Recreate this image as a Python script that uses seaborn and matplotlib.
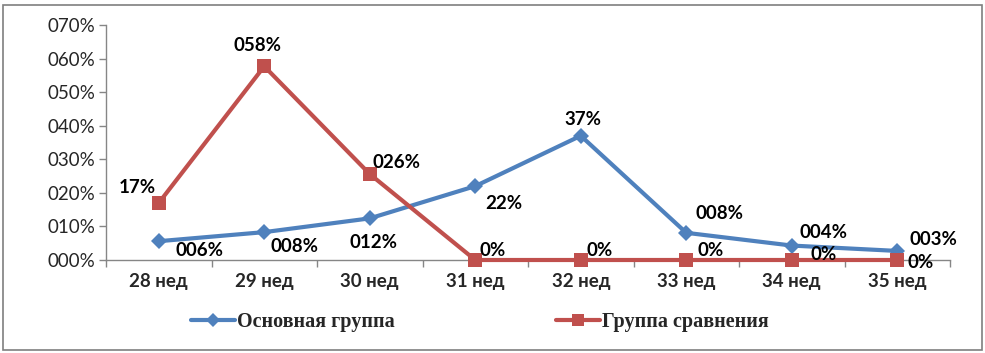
import matplotlib
matplotlib.use("Agg")
import matplotlib.pyplot as plt
import seaborn as sns
import pandas as pd
from matplotlib.ticker import FuncFormatter, FixedLocator
from matplotlib.patches import Rectangle
from matplotlib.lines import Line2D

categories = ["28 нед", "29 нед", "30 нед", "31 нед", "32 нед", "33 нед", "34 нед", "35 нед"]
main_group = [0.056, 0.083, 0.124, 0.22, 0.37, 0.081, 0.043, 0.027]
compare_group = [0.17, 0.577, 0.256, 0.0, 0.0, 0.0, 0.0, 0.0]
main_labels = ["006%", "008%", "012%", "22%", "37%", "008%", "004%", "003%"]
compare_labels = ["17%", "058%", "026%", "0%", "0%", "0%", "0%", "0%"]
series_names = ["Основная группа", "Группа сравнения"]

main_offsets = [(41, -9), (30, -14), (4, -24), (29, -17), (2, 16), (33, 19), (32, 13), (36, 11)]
compare_offsets = [(-21, 15), (-7, 21), (27, 12), (17, 9), (19, 10), (24, 10), (32, 5), (23, -2)]

blue = "#4F81BD"
red = "#C0504D"

sns.set_theme(style="white")
plt.rcParams["font.family"] = ["Lato", "DejaVu Sans"]

df = pd.DataFrame({
    "pos": list(range(len(categories))) * 2,
    "value": main_group + compare_group,
    "series": [series_names[0]] * len(categories) + [series_names[1]] * len(categories),
})

fig = plt.figure(figsize=(9.85, 3.53), dpi=100)
ax = fig.add_axes([106 / 985, 1 - 260 / 353, (950 - 106) / 985, (260 - 25) / 353])

sns.lineplot(data=df, x="pos", y="value", hue="series", style="series",
             markers={series_names[0]: "D", series_names[1]: "s"}, dashes=False,
             palette={series_names[0]: blue, series_names[1]: red},
             linewidth=3.0, markersize=9, markeredgewidth=0, ax=ax, legend=False)
for ln in ax.get_lines():
    ln.set_clip_on(False)
    ln.set_zorder(3)
    if ln.get_marker() == "D":
        ln.set_markersize(8.5)
    elif ln.get_marker() == "s":
        ln.set_markersize(10.5)

ax.set_xlim(-0.5, len(categories) - 0.5)
ax.set_ylim(0, 0.7)
ax.set_xlabel("")
ax.set_ylabel("")

ax.yaxis.set_major_locator(FixedLocator([i / 10 for i in range(8)]))
ax.yaxis.set_major_formatter(FuncFormatter(lambda v, p: f"{int(round(v * 100)):03d}%"))
ax.set_xticks(range(len(categories)))
ax.set_xticklabels(categories, fontweight="bold", fontsize=13.5)
ax.set_xticks([i - 0.5 for i in range(len(categories) + 1)], minor=True)
ax.tick_params(axis="x", which="major", length=0, pad=9)
ax.tick_params(axis="x", which="minor", length=5, color="#868686", direction="out", width=1)
ax.tick_params(axis="y", length=5, color="#868686", direction="out", width=1, labelsize=13.5, pad=3)
ax.tick_params(axis="both", bottom=True, left=True)
ax.xaxis.set_tick_params(which="minor", bottom=True)

for side in ["top", "right"]:
    ax.spines[side].set_visible(False)
for side in ["left", "bottom"]:
    ax.spines[side].set_color("#868686")
    ax.spines[side].set_linewidth(1)
ax.grid(False)

for i, (v, lab, off) in enumerate(zip(main_group, main_labels, main_offsets)):
    ax.annotate(lab, (i, v), xytext=off, textcoords="offset pixels",
                ha="center", va="center", fontsize=13.5, fontweight="bold", color="black", zorder=5)
for i, (v, lab, off) in enumerate(zip(compare_group, compare_labels, compare_offsets)):
    ax.annotate(lab, (i, v), xytext=off, textcoords="offset pixels",
                ha="center", va="center", fontsize=13.5, fontweight="bold", color="black", zorder=5)

handles = [
    Line2D([], [], color=blue, lw=3, marker="D", markersize=7, markeredgewidth=0),
    Line2D([], [], color=red, lw=3, marker="s", markersize=9, markeredgewidth=0),
]
fig.legend(handles, series_names, loc="center", bbox_to_anchor=(0.487, 1 - 322 / 353),
           ncol=2, frameon=False, columnspacing=8, handlelength=2.2, handletextpad=0.1,
           prop={"family": "Liberation Serif", "weight": "bold", "size": 14.5})

fig.patches.append(Rectangle((3 / 985, 3 / 353), 979 / 985, 345 / 353, transform=fig.transFigure,
                             fill=False, edgecolor="#7f7f7f", linewidth=1.2))

fig.savefig("out.png", dpi=100)
